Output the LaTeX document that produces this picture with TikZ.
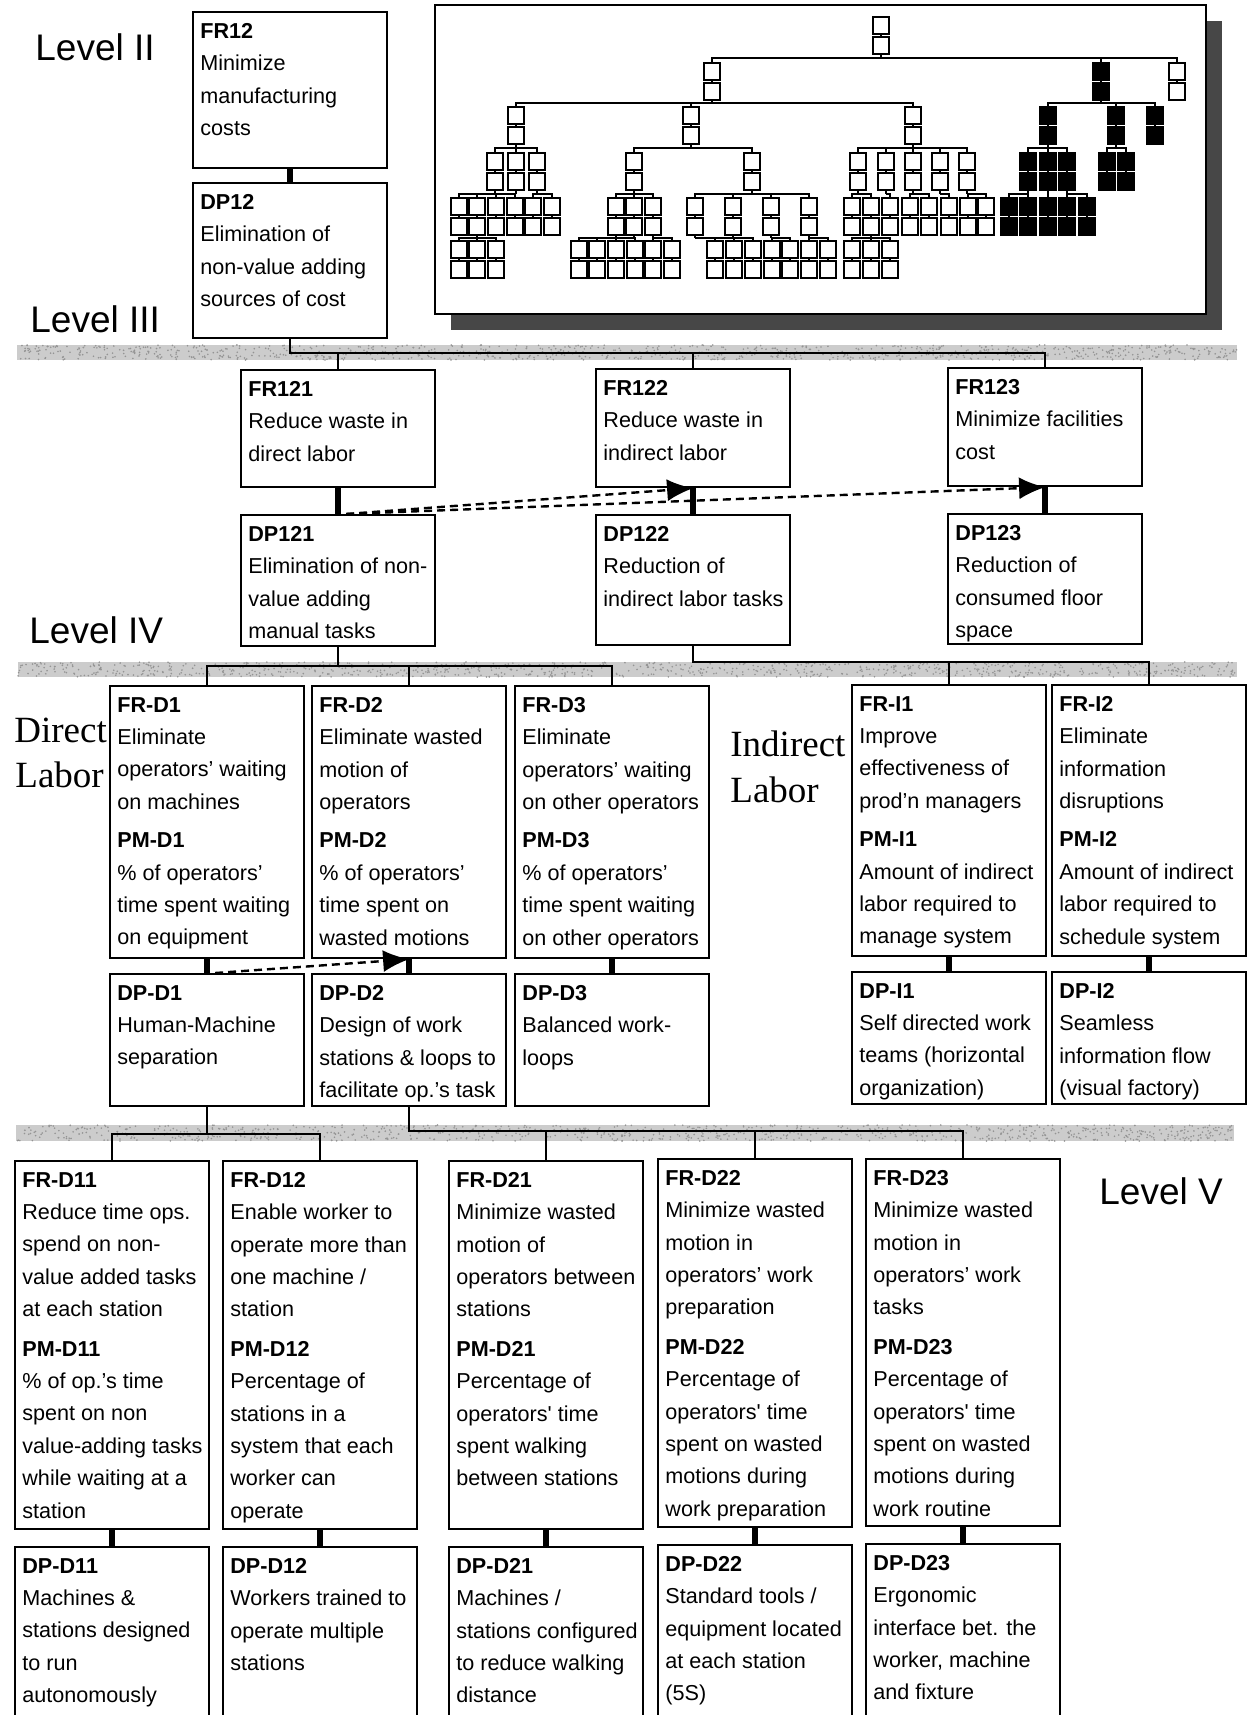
\documentclass[tikz,border=0pt]{standalone}
\usepackage{fontspec}
\setmainfont{Liberation Sans}
\newfontfamily\labelserif{Liberation Serif}
\usetikzlibrary{arrows.meta,shadows}

% one FR/DP box: name, left x, top y, height, text
\newcommand{\dpbox}[5]{%
  \node[box, minimum height=#4*0.5pt] (#1) at (#2,#3) {};
  \node[boxtext] (#1-t) at (#1.north west) {#5};
}
% miniature FR/DP pair of the overview tree: [fill], centre x, top y
\newcommand{\mpair}[3][white]{%
  \draw[mini, fill=#1] (#2-8,#3) rectangle (#2+8,#3+17);
  \draw[mini, fill=#1] (#2-8,#3+20) rectangle (#2+8,#3+37);
  \draw[line width=1.4pt] (#2,#3+17) -- (#2,#3+20);
}
% miniature branch: parent x, parent bottom, bar y, child top, child xs
\newcommand{\mlink}[5]{%
  \draw[mini] (#1,#2) -- (#1,#3);
  \foreach \c in {#5} {\draw[mini] (#1,#3) -- (\c,#3) -- (\c,#4);}
}
% speckled grey separator: left x, top y, right x, bottom y
\newcommand{\speckleband}[4]{%
  \fill[band] (#1,#2) rectangle (#3,#4);
  \foreach \i in {1,...,900} {%
    \pgfmathsetmacro{\sx}{#1+rnd*(#3-#1)}%
    \pgfmathsetmacro{\sy}{#2+rnd*(#4-#2)}%
    \fill[speck] (\sx,\sy) circle (0.45pt);
  }
}

\begin{document}
\begin{tikzpicture}[x=0.5pt,y=-0.5pt,
  box/.style={draw, line width=1.1pt, anchor=north west, minimum width=97pt, inner sep=0pt},
  boxtext/.style={anchor=north west, align=left, inner xsep=4pt, inner ysep=5.9pt,
    font=\fontsize{10.8}{16.2}\selectfont},
  link/.style={line width=1pt},
  fdlink/.style={line width=3.3pt},
  xref/.style={line width=1.2pt, dash pattern=on 4pt off 2.5pt, -{Latex[length=13pt,width=11pt]}},
  band/.style={fill=black!20},
  speck/.style={fill=black!42},
  level/.style={anchor=base west, inner sep=0pt, font=\fontsize{18.5}{22}\selectfont},
  labor/.style={anchor=base west, inner sep=0pt, font=\labelserif\fontsize{18.5}{22}\selectfont},
  mini/.style={line width=0.6pt}]

\pgfmathsetseed{4711}
\useasboundingbox (0,0) rectangle (1249,1715);
\clip (0,0) rectangle (1249,1715);

% level separators
\speckleband{17}{345}{1237}{360}
\speckleband{18}{662}{1237}{677}
\speckleband{16}{1125}{1234}{1141}

% level labels
\node[level] (lvII) at (35,60) {Level II};
\node[level] (lvIII) at (30,332) {Level III};
\node[level] (lvIV) at (29,643) {Level IV};
\node[level] (lvV) at (1099,1204) {Level V};
\node[labor] (dirA) at (14,742) {Direct};
\node[labor] (dirB) at (15,787) {Labor};
\node[labor] (indA) at (730,756) {Indirect};
\node[labor] (indB) at (730,802) {Labor};

% overview of the whole decomposition
\node[draw, line width=1pt, fill=white, anchor=north west, inner sep=0pt,
  minimum width=385.5pt, minimum height=154.5pt,
  drop shadow={shadow xshift=8pt, shadow yshift=-8pt, fill=black!72, opacity=1}]
  (overview) at (434,4) {};

\mlink{881}{54}{58}{63}{712,1101,1177}
\mlink{712}{100}{103}{107}{516,691,913}
\mlink{1101}{100}{103}{107}{1048,1116,1155}
\mlink{516}{144}{148}{153}{495,516,537}
\mlink{691}{144}{148}{153}{634,752}
\mlink{913}{144}{148}{153}{858,886,913,940,967}
\mlink{1048}{144}{148}{153}{1028,1048,1067}
\mlink{1116}{144}{148}{153}{1107,1126}
\mlink{495}{190}{194}{198}{459,477}
\mlink{516}{190}{194}{198}{496,515}
\mlink{537}{190}{194}{198}{533,552}
\mlink{634}{190}{194}{198}{616,634,653}
\mlink{752}{190}{194}{198}{695,733,771,809}
\mlink{858}{190}{194}{198}{852,871}
\mlink{886}{190}{194}{198}{890}
\mlink{913}{190}{194}{198}{910,929}
\mlink{940}{190}{194}{198}{949}
\mlink{967}{190}{194}{198}{968,986}
\mlink{1028}{190}{194}{198}{1009,1028}
\mlink{1048}{190}{194}{198}{1048}
\mlink{1067}{190}{194}{198}{1067,1087}
\mlink{477}{235}{238}{241}{459,477,496}
\mlink{616}{235}{238}{241}{579,597}
\mlink{634}{235}{238}{241}{616,635}
\mlink{653}{235}{238}{241}{653,672}
\mlink{695}{235}{238}{241}{715,734}
\mlink{733}{235}{238}{241}{753}
\mlink{771}{235}{238}{241}{772,790}
\mlink{809}{235}{238}{241}{809,828}
\mlink{871}{235}{238}{241}{852,871,890}

\mpair{881}{17}
\foreach \x in {712,1177} {\mpair{\x}{63}}
\mpair[black]{1101}{63}
\foreach \x in {516,691,913} {\mpair{\x}{107}}
\foreach \x in {1048,1116,1155} {\mpair[black]{\x}{107}}
\foreach \x in {495,516,537,634,752,858,886,913,940,967} {\mpair{\x}{153}}
\foreach \x in {1028,1048,1067,1107,1126} {\mpair[black]{\x}{153}}
\foreach \x in {459,477,496,515,533,552,616,634,653,695,733,771,809,852,871,890,910,929,949,968,986} {\mpair{\x}{198}}
\foreach \x in {1009,1028,1048,1067,1087} {\mpair[black]{\x}{198}}
\foreach \x in {459,477,496,579,597,616,635,653,672,715,734,753,772,790,809,828,852,871,890} {\mpair{\x}{241}}

% Level II
\dpbox{FR12}{192}{11}{156}{\textbf{FR12}\\Minimize\\manufacturing\\costs}
\dpbox{DP12}{192}{182}{155}{\textbf{DP12}\\Elimination of\\non-value adding\\sources of cost}

% Level III
\dpbox{FR121}{240}{369}{117}{\textbf{FR121}\\Reduce waste in\\direct labor}
\dpbox{FR122}{595}{368}{118}{\textbf{FR122}\\Reduce waste in\\indirect labor}
\dpbox{FR123}{947}{367}{118}{\textbf{FR123}\\Minimize facilities\\cost}
\dpbox{DP121}{240}{514}{131}{\textbf{DP121}\\Elimination of non-\\value adding\\manual tasks}
\dpbox{DP122}{595}{514}{130}{\textbf{DP122}\\Reduction of\\indirect labor tasks}
\dpbox{DP123}{947}{513}{130}{\textbf{DP123}\\Reduction of\\consumed floor\\space}

% Level IV
\dpbox{FRD1}{109}{685}{272}{\textbf{FR-D1}\\Eliminate\\operators’ waiting\\on machines\\[3pt]\textbf{PM-D1}\\\% of operators’\\time spent waiting\\on equipment}
\dpbox{FRD2}{311}{685}{272}{\textbf{FR-D2}\\Eliminate wasted\\motion of\\operators\\[3pt]\textbf{PM-D2}\\\% of operators’\\time spent on\\wasted motions}
\dpbox{FRD3}{514}{685}{272}{\textbf{FR-D3}\\Eliminate\\operators’ waiting\\on other operators\\[3pt]\textbf{PM-D3}\\\% of operators’\\time spent waiting\\on other operators}
\dpbox{FRI1}{851}{684}{271}{\textbf{FR-I1}\\Improve\\effectiveness of\\prod’n managers\\[3pt]\textbf{PM-I1}\\Amount of indirect\\labor required to\\manage system}
\dpbox{FRI2}{1051}{684}{271}{\textbf{FR-I2}\\Eliminate\\information\\disruptions\\[3pt]\textbf{PM-I2}\\Amount of indirect\\labor required to\\schedule system}
\dpbox{DPD1}{109}{973}{132}{\textbf{DP-D1}\\Human-Machine\\separation}
\dpbox{DPD2}{311}{973}{132}{\textbf{DP-D2}\\Design of work\\stations \& loops to\\facilitate op.’s task}
\dpbox{DPD3}{514}{973}{132}{\textbf{DP-D3}\\Balanced work-\\loops}
\dpbox{DPI1}{851}{971}{132}{\textbf{DP-I1}\\Self directed work\\teams (horizontal\\organization)}
\dpbox{DPI2}{1051}{971}{132}{\textbf{DP-I2}\\Seamless\\information flow\\(visual factory)}

% Level V
\dpbox{FRD11}{14}{1160}{368}{\textbf{FR-D11}\\Reduce time ops.\\spend on non-\\value added tasks\\at each station\\[3.5pt]\textbf{PM-D11}\\\% of op.’s time\\spent on non\\value-adding tasks\\while waiting at a\\station}
\dpbox{FRD12}{222}{1160}{368}{\textbf{FR-D12}\\Enable worker to\\operate more than\\one machine /\\station\\[3.5pt]\textbf{PM-D12}\\Percentage of\\stations in a\\system that each\\worker can\\operate}
\dpbox{FRD21}{448}{1160}{368}{\textbf{FR-D21}\\Minimize wasted\\motion of\\operators between\\stations\\[3.5pt]\textbf{PM-D21}\\Percentage of\\operators\textquotesingle\ time\\spent walking\\between stations}
\dpbox{FRD22}{657}{1158}{368}{\textbf{FR-D22}\\Minimize wasted\\motion in\\operators’ work\\preparation\\[3.5pt]\textbf{PM-D22}\\Percentage of\\operators\textquotesingle\ time\\spent on wasted\\motions during\\work preparation}
\dpbox{FRD23}{865}{1158}{367}{\textbf{FR-D23}\\Minimize wasted\\motion in\\operators’ work\\tasks\\[3.5pt]\textbf{PM-D23}\\Percentage of\\operators\textquotesingle\ time\\spent on wasted\\motions during\\work routine}
\dpbox{DPD11}{14}{1546}{220}{\textbf{DP-D11}\\Machines \&\\stations designed\\to run\\autonomously}
\dpbox{DPD12}{222}{1546}{220}{\textbf{DP-D12}\\Workers trained to\\operate multiple\\stations}
\dpbox{DPD21}{448}{1546}{220}{\textbf{DP-D21}\\Machines /\\stations configured\\to reduce walking\\distance}
\dpbox{DPD22}{657}{1544}{220}{\textbf{DP-D22}\\Standard tools /\\equipment located\\at each station\\(5S)}
\dpbox{DPD23}{865}{1543}{220}{\textbf{DP-D23}\\Ergonomic\\interface bet. the\\worker, machine\\and fixture}

% hierarchy buses
\coordinate (bus3) at (0,353);
\coordinate (bus4L) at (0,666);
\coordinate (bus4R) at (0,662);
\coordinate (bus5L) at (0,1134);
\coordinate (bus5R) at (0,1131);

\draw[link] (DP12.south) |- (FR123.north |- bus3) -- (FR123.north);
\draw[link] (FR121.north |- bus3) -- (FR121.north);
\draw[link] (FR122.north |- bus3) -- (FR122.north);

\draw[link] (DP121.south) -- (DP121.south |- bus4L);
\draw[link] (FRD1.north) |- (FRD3.north |- bus4L) -- (FRD3.north);
\draw[link] (FRD2.north |- bus4L) -- (FRD2.north);

\draw[link] (DP122.south) |- (FRI2.north |- bus4R) -- (FRI2.north);
\draw[link] (FRI1.north |- bus4R) -- (FRI1.north);

\draw[link] (DPD1.south) -- (DPD1.south |- bus5L);
\draw[link] (FRD11.north) |- (FRD12.north |- bus5L) -- (FRD12.north);

\draw[link] (DPD2.south) |- (FRD23.north |- bus5R) -- (FRD23.north);
\draw[link] (FRD21.north |- bus5R) -- (FRD21.north);
\draw[link] (FRD22.north |- bus5R) -- (FRD22.north);

% FR-DP mappings
\foreach \a/\b in {FR12/DP12, FR121/DP121, FR122/DP122, FR123/DP123,
  FRD1/DPD1, FRD2/DPD2, FRD3/DPD3, FRI1/DPI1, FRI2/DPI2,
  FRD11/DPD11, FRD12/DPD12, FRD21/DPD21, FRD22/DPD22, FRD23/DPD23}
  {\draw[fdlink] (\a.south) -- (\b.north);}

% cross dependencies
\draw[xref] ([xshift=4pt]DP121.north) -- (FR122.south);
\draw[xref] ([xshift=4pt]DP121.north) -- (FR123.south);
\draw[xref] ([xshift=4pt]DPD1.north) -- (FRD2.south);

\end{tikzpicture}
\end{document}
